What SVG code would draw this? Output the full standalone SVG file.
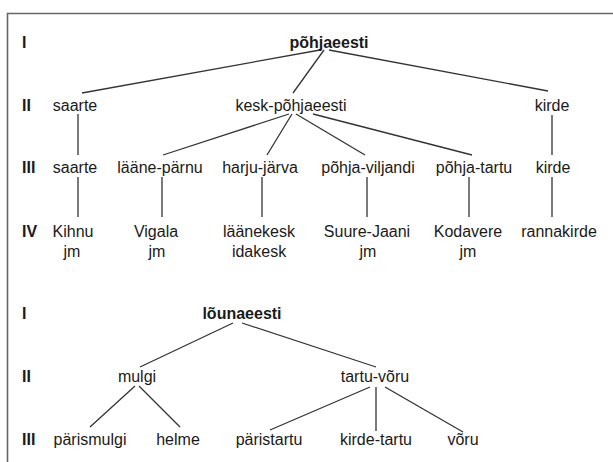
<svg xmlns="http://www.w3.org/2000/svg" width="613" height="462" viewBox="0 0 613 462">
<style>
text{font-family:"Liberation Sans",Arial,sans-serif;font-size:16px;fill:#1a1a1a;text-anchor:middle}
.b{font-weight:bold}
.lv{font-weight:bold;text-anchor:start}
.c line{stroke:#333;stroke-width:1.3}
</style>
<rect width="613" height="462" fill="#fff"/>
<path d="M7.5 462V13.5H613" fill="none" stroke="#666" stroke-width="1.6"/>
<g id="levels">
<text class="lv" x="22" y="48">I</text>
<text class="lv" x="22" y="111">II</text>
<text class="lv" x="22" y="173">III</text>
<text class="lv" x="22" y="237">IV</text>
<text class="lv" x="22" y="319">I</text>
<text class="lv" x="22" y="382">II</text>
<text class="lv" x="22" y="445">III</text>
</g>
<g class="c" id="connectors">
<line x1="320" y1="50" x2="82" y2="93"/>
<line x1="324" y1="50" x2="293" y2="93"/>
<line x1="329" y1="50" x2="548" y2="91"/>
<line x1="78" y1="114" x2="78" y2="155"/>
<line x1="552" y1="115" x2="552" y2="155"/>
<line x1="289" y1="114" x2="163" y2="155"/>
<line x1="292" y1="114" x2="267" y2="155"/>
<line x1="296" y1="114" x2="365" y2="155"/>
<line x1="313" y1="114" x2="472" y2="155"/>
<line x1="78" y1="177" x2="78" y2="217"/>
<line x1="162" y1="177" x2="162" y2="217"/>
<line x1="262" y1="177" x2="262" y2="217"/>
<line x1="367" y1="177" x2="367" y2="217"/>
<line x1="469" y1="177" x2="469" y2="217"/>
<line x1="552" y1="177" x2="552" y2="217"/>
<line x1="233" y1="323" x2="140" y2="367"/>
<line x1="242" y1="323" x2="376" y2="367"/>
<line x1="135" y1="386" x2="90" y2="427"/>
<line x1="139" y1="386" x2="180" y2="427"/>
<line x1="370" y1="387" x2="270" y2="430"/>
<line x1="376" y1="387" x2="376" y2="431"/>
<line x1="385" y1="387" x2="463" y2="432"/>
</g>
<g id="pohjaeesti"><text class="b" x="329" y="48">põhjaeesti</text></g>
<g id="saarte2"><text x="75" y="111">saarte</text></g>
<g id="keskpohjaeesti"><text x="291" y="111">kesk-põhjaeesti</text></g>
<g id="kirde2"><text x="552" y="111">kirde</text></g>
<g id="saarte3"><text x="75" y="173">saarte</text></g>
<g id="laanaparnu"><text x="160" y="173">lääne-pärnu</text></g>
<g id="harjujarva"><text x="260" y="173">harju-järva</text></g>
<g id="pohjaviljandi"><text x="368" y="173">põhja-viljandi</text></g>
<g id="pohjatartu"><text x="474" y="173">põhja-tartu</text></g>
<g id="kirde3"><text x="553" y="173">kirde</text></g>
<g id="kihnu"><text x="73" y="237">Kihnu</text><text x="72" y="257">jm</text></g>
<g id="vigala"><text x="156" y="237">Vigala</text><text x="157" y="257">jm</text></g>
<g id="laanekesk"><text x="259" y="237">läänekesk</text><text x="259" y="257">idakesk</text></g>
<g id="suurejaani"><text x="367" y="237">Suure-Jaani</text><text x="368" y="257">jm</text></g>
<g id="kodavere"><text x="468" y="237">Kodavere</text><text x="468" y="257">jm</text></g>
<g id="rannakirde"><text x="559" y="237">rannakirde</text></g>
<g id="lounaeesti"><text class="b" x="242" y="319">lõunaeesti</text></g>
<g id="mulgi"><text x="137" y="382">mulgi</text></g>
<g id="tartuvoru"><text x="375" y="382">tartu-võru</text></g>
<g id="parismulgi"><text x="90" y="445">pärismulgi</text></g>
<g id="helme"><text x="178" y="445">helme</text></g>
<g id="paristartu"><text x="269" y="445">päristartu</text></g>
<g id="kirdetartu"><text x="376" y="445">kirde-tartu</text></g>
<g id="voru"><text x="463" y="445">võru</text></g>
</svg>
